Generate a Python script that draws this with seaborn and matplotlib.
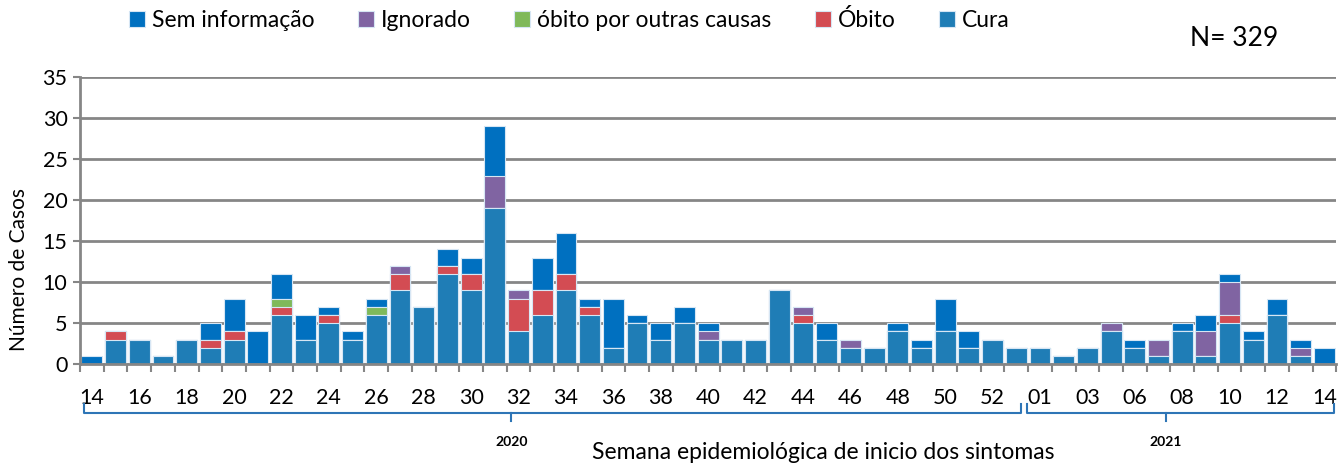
import numpy as np
import matplotlib.pyplot as plt
import pandas as pd
import seaborn as sns

# Semanas epidemiológicas: 2020 (14-53) i 2021 (bez tygodnia 05)
semanas_2020 = [str(s) for s in range(14, 54)]
semanas_2021 = ['01', '02', '03', '04', '06', '07', '08', '09', '10', '11', '12', '13', '14']

# Liczby przypadków (2020 | 2021)
cura = [0, 3, 3, 1, 3, 2, 3, 0, 6, 3, 5, 3, 6, 9, 7, 11, 9, 19, 4, 6,
        9, 6, 2, 5, 3, 5, 3, 3, 3, 9, 5, 3, 2, 2, 4, 2, 4, 2, 3, 2,
        2, 1, 2, 4, 2, 1, 4, 1, 5, 3, 6, 1, 0]
obito = [0, 1, 0, 0, 0, 1, 1, 0, 1, 0, 1, 0, 0, 2, 0, 1, 2, 0, 4, 3,
         2, 1, 0, 0, 0, 0, 0, 0, 0, 0, 1, 0, 0, 0, 0, 0, 0, 0, 0, 0,
         0, 0, 0, 0, 0, 0, 0, 0, 1, 0, 0, 0, 0]
outras = [0, 0, 0, 0, 0, 0, 0, 0, 1, 0, 0, 0, 1, 0, 0, 0, 0, 0, 0, 0,
          0, 0, 0, 0, 0, 0, 0, 0, 0, 0, 0, 0, 0, 0, 0, 0, 0, 0, 0, 0,
          0, 0, 0, 0, 0, 0, 0, 0, 0, 0, 0, 0, 0]
ignorado = [0, 0, 0, 0, 0, 0, 0, 0, 0, 0, 0, 0, 0, 1, 0, 0, 0, 4, 1, 0,
            0, 0, 0, 0, 0, 0, 1, 0, 0, 0, 1, 0, 1, 0, 0, 0, 0, 0, 0, 0,
            0, 0, 0, 1, 0, 2, 0, 3, 4, 0, 0, 1, 0]
sem_info = [1, 0, 0, 0, 0, 2, 4, 4, 3, 3, 1, 1, 1, 0, 0, 2, 2, 6, 0, 4,
            5, 1, 6, 1, 2, 2, 1, 0, 0, 0, 0, 2, 0, 0, 1, 1, 4, 2, 0, 0,
            0, 0, 0, 0, 1, 0, 1, 2, 1, 1, 2, 1, 2]

semanas = semanas_2020 + semanas_2021
df = pd.DataFrame({'pos': np.arange(len(semanas)), 'Cura': cura, 'Óbito': obito,
                   'óbito por outras causas': outras, 'Ignorado': ignorado,
                   'Sem informação': sem_info})

kategorie = ['Cura', 'Óbito', 'óbito por outras causas', 'Ignorado', 'Sem informação']
kolory = {'Sem informação': '#0070C0', 'Ignorado': '#8064A2',
          'óbito por outras causas': '#7FB95A', 'Óbito': '#D34C53', 'Cura': '#1F7DB6'}

plt.rcParams['font.family'] = ['Lato', 'DejaVu Sans']

fig, ax = plt.subplots(figsize=(13.43, 4.65), dpi=100)
fig.subplots_adjust(left=0.0596, right=0.995, bottom=0.217, top=0.834)

# słupki skumulowane: od sumy całkowitej w dół
skum = df[kategorie].cumsum(axis=1)
for kat in kategorie[::-1]:
    sns.barplot(x=df['pos'], y=skum[kat], color=kolory[kat], saturation=1, width=0.88,
                edgecolor='#d6e6f4', linewidth=0.8, errorbar=None, label=kat, ax=ax)
if ax.get_legend() is not None:
    ax.get_legend().remove()

ax.set_xlim(-0.5, len(semanas) - 0.5)
ax.set_ylim(0, 35)
ax.set_yticks(range(0, 36, 5))
ax.yaxis.grid(True, color='#868686', linewidth=2)
ax.set_axisbelow(True)
for s in ['top', 'right']:
    ax.spines[s].set_visible(False)
for s in ['left', 'bottom']:
    ax.spines[s].set_color('#868686')
    ax.spines[s].set_linewidth(2)

ax.set_xticks(np.arange(0, len(semanas), 2))
ax.set_xticklabels(semanas[::2])
ax.set_xticks(np.arange(-0.5, len(semanas), 1), minor=True)
ax.tick_params(axis='x', which='major', length=0, pad=17, labelsize=15.5)
ax.tick_params(axis='x', which='minor', length=6, width=1.5, color='#868686')
ax.tick_params(axis='y', length=5, width=1.5, color='#868686', labelsize=15.5, pad=4)
ax.set_xlabel('')
ax.set_ylabel('Número de Casos', fontsize=15)
ax.yaxis.set_label_coords(-0.041, 0.33)

# klamry lat pod osią X
tr = ax.get_xaxis_transform()
for x0, x1, xc, rok in [(-0.35, 39.2, 17.7, '2020'), (39.45, 52.4, 45.3, '2021')]:
    ax.plot([x0, x0, x1, x1], [-0.14, -0.172, -0.172, -0.14], color='#2E75B6',
            lw=1.5, transform=tr, clip_on=False)
    ax.plot([xc, xc], [-0.172, -0.2], color='#2E75B6', lw=1.5, transform=tr, clip_on=False)
    ax.text(xc, -0.272, rok, transform=tr, ha='center', va='center',
            fontsize=10, fontweight='bold')

fig.text(823 / 1343, 1 - 452 / 465, 'Semana epidemiológica de inicio dos sintomas',
         ha='center', va='center', fontsize=16.5)
fig.text(1234 / 1343, 1 - 38 / 465, 'N= 329', ha='center', va='center', fontsize=19)

fig.legend(loc='center', bbox_to_anchor=(0.424, 0.957), ncol=5, frameon=False, fontsize=16.5,
           handlelength=0.7, handleheight=0.7, handletextpad=0.3, columnspacing=1.9)

plt.savefig('out.png', dpi=100)
